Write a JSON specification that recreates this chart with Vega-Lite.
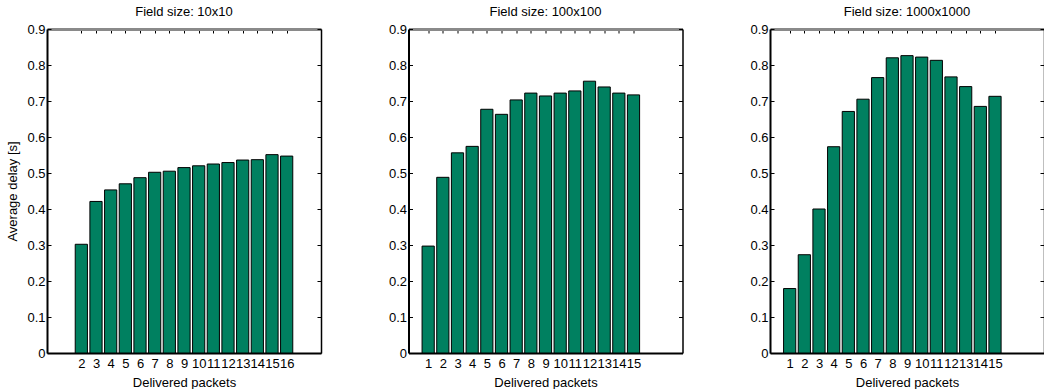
{
  "$schema": "https://vega.github.io/schema/vega-lite/v6.json",
  "autosize": {"type": "pad"},
  "padding": {"left": 6, "top": 6, "right": 0, "bottom": 0},
  "bounds": "flush",
  "spacing": 87.5,
  "config": {
    "view": {"stroke": null},
    "font": "Liberation Sans",
    "axis": {
      "grid": false,
      "labelFont": "Liberation Sans",
      "labelFontSize": 13,
      "labelColor": "#000",
      "titleFont": "Liberation Sans",
      "titleFontSize": 13,
      "titleFontWeight": "normal",
      "titleColor": "#000",
      "domainColor": "#000",
      "tickColor": "#000",
      "tickWidth": 1,
      "zindex": 1
    },
    "title": {"font": "Liberation Sans", "fontSize": 13, "fontWeight": "normal", "color": "#000", "offset": 4}
  },
  "datasets": {
    "p1": [
      {"packets": 2, "delay": 0.302},
      {"packets": 3, "delay": 0.421},
      {"packets": 4, "delay": 0.453},
      {"packets": 5, "delay": 0.470},
      {"packets": 6, "delay": 0.487},
      {"packets": 7, "delay": 0.502},
      {"packets": 8, "delay": 0.505},
      {"packets": 9, "delay": 0.515},
      {"packets": 10, "delay": 0.520},
      {"packets": 11, "delay": 0.525},
      {"packets": 12, "delay": 0.529},
      {"packets": 13, "delay": 0.536},
      {"packets": 14, "delay": 0.537},
      {"packets": 15, "delay": 0.551},
      {"packets": 16, "delay": 0.547}
    ],
    "p2": [
      {"packets": 1, "delay": 0.297},
      {"packets": 2, "delay": 0.488},
      {"packets": 3, "delay": 0.556},
      {"packets": 4, "delay": 0.574},
      {"packets": 5, "delay": 0.677},
      {"packets": 6, "delay": 0.663},
      {"packets": 7, "delay": 0.703},
      {"packets": 8, "delay": 0.722},
      {"packets": 9, "delay": 0.714},
      {"packets": 10, "delay": 0.722},
      {"packets": 11, "delay": 0.728},
      {"packets": 12, "delay": 0.755},
      {"packets": 13, "delay": 0.739},
      {"packets": 14, "delay": 0.722},
      {"packets": 15, "delay": 0.717}
    ],
    "p3": [
      {"packets": 1, "delay": 0.179},
      {"packets": 2, "delay": 0.273},
      {"packets": 3, "delay": 0.400},
      {"packets": 4, "delay": 0.573},
      {"packets": 5, "delay": 0.671},
      {"packets": 6, "delay": 0.705},
      {"packets": 7, "delay": 0.765},
      {"packets": 8, "delay": 0.820},
      {"packets": 9, "delay": 0.826},
      {"packets": 10, "delay": 0.822},
      {"packets": 11, "delay": 0.813},
      {"packets": 12, "delay": 0.767},
      {"packets": 13, "delay": 0.740},
      {"packets": 14, "delay": 0.685},
      {"packets": 15, "delay": 0.713}
    ]
  },
  "hconcat": [
    {
      "title": "Field size: 10x10",
      "width": 274,
      "height": 324,
      "data": {"name": "p1"},
      "layer": [
        {
          "mark": {"type": "bar", "fill": "#008060", "stroke": "#000", "strokeWidth": 1, "width": 12.2},
          "encoding": {
            "x": {"field": "packets", "type": "quantitative", "scale": {"domain": [0, 18], "nice": false, "zero": false},
              "axis": {"orient": "bottom", "values": [2,3,4,5,6,7,8,9,10,11,12,13,14,15,16], "ticks": false, "domainWidth": 2, "labelPadding": 4, "labelOverlap": false, "labelFlush": false, "labelBound": false, "title": "Delivered packets", "titlePadding": 6}},
            "y": {"field": "delay", "type": "quantitative", "scale": {"domain": [0, 0.9], "nice": false},
              "axis": {"orient": "left", "values": [0,0.1,0.2,0.3,0.4,0.5,0.6,0.7,0.8,0.9], "tickSize": -4, "labelPadding": 6, "domainWidth": 2, "labelExpr": "datum.value == 0 ? '0' : format(datum.value, '.1f')", "title": "Average delay [s]", "titlePadding": 7}}
          }
        },
        {
          "mark": {"type": "bar", "opacity": 0, "width": 12.2},
          "encoding": {
            "x": {"field": "packets", "type": "quantitative",
              "axis": {"orient": "top", "values": [2,3,4,5,6,7,8,9,10,11,12,13,14,15,16], "tickSize": -4, "labels": false, "domainColor": "#8a8a8a", "domainWidth": 3, "title": null}},
            "y": {"field": "delay", "type": "quantitative",
              "axis": {"orient": "right", "values": [0,0.1,0.2,0.3,0.4,0.5,0.6,0.7,0.8,0.9], "tickSize": -4, "labels": false, "domainWidth": 1.5, "title": null}}
          }
        }
      ],
      "resolve": {"axis": {"x": "independent", "y": "independent"}}
    },
    {
      "title": "Field size: 100x100",
      "width": 274,
      "height": 324,
      "data": {"name": "p2"},
      "layer": [
        {
          "mark": {"type": "bar", "fill": "#008060", "stroke": "#000", "strokeWidth": 1, "width": 12.2},
          "encoding": {
            "x": {"field": "packets", "type": "quantitative", "scale": {"domain": [0, 18], "nice": false, "zero": false},
              "axis": {"orient": "bottom", "values": [1,2,3,4,5,6,7,8,9,10,11,12,13,14,15], "ticks": false, "domainWidth": 2, "labelPadding": 4, "labelOverlap": false, "labelFlush": false, "labelBound": false, "title": "Delivered packets", "titlePadding": 6}},
            "y": {"field": "delay", "type": "quantitative", "scale": {"domain": [0, 0.9], "nice": false},
              "axis": {"orient": "left", "values": [0,0.1,0.2,0.3,0.4,0.5,0.6,0.7,0.8,0.9], "tickSize": -4, "labelPadding": 6, "domainWidth": 2, "labelExpr": "datum.value == 0 ? '0' : format(datum.value, '.1f')", "title": null}}
          }
        },
        {
          "mark": {"type": "bar", "opacity": 0, "width": 12.2},
          "encoding": {
            "x": {"field": "packets", "type": "quantitative",
              "axis": {"orient": "top", "values": [1,2,3,4,5,6,7,8,9,10,11,12,13,14,15], "tickSize": -4, "labels": false, "domainColor": "#8a8a8a", "domainWidth": 3, "title": null}},
            "y": {"field": "delay", "type": "quantitative",
              "axis": {"orient": "right", "values": [0,0.1,0.2,0.3,0.4,0.5,0.6,0.7,0.8,0.9], "tickSize": -4, "labels": false, "domainWidth": 1.5, "title": null}}
          }
        }
      ],
      "resolve": {"axis": {"x": "independent", "y": "independent"}}
    },
    {
      "title": "Field size: 1000x1000",
      "width": 274,
      "height": 324,
      "data": {"name": "p3"},
      "layer": [
        {
          "mark": {"type": "bar", "fill": "#008060", "stroke": "#000", "strokeWidth": 1, "width": 12.2},
          "encoding": {
            "x": {"field": "packets", "type": "quantitative", "scale": {"domain": [0, 18], "nice": false, "zero": false},
              "axis": {"orient": "bottom", "values": [1,2,3,4,5,6,7,8,9,10,11,12,13,14,15], "ticks": false, "domainWidth": 2, "labelPadding": 4, "labelOverlap": false, "labelFlush": false, "labelBound": false, "title": "Delivered packets", "titlePadding": 6}},
            "y": {"field": "delay", "type": "quantitative", "scale": {"domain": [0, 0.9], "nice": false},
              "axis": {"orient": "left", "values": [0,0.1,0.2,0.3,0.4,0.5,0.6,0.7,0.8,0.9], "tickSize": -4, "labelPadding": 6, "domainWidth": 2, "labelExpr": "datum.value == 0 ? '0' : format(datum.value, '.1f')", "title": null}}
          }
        },
        {
          "mark": {"type": "bar", "opacity": 0, "width": 12.2},
          "encoding": {
            "x": {"field": "packets", "type": "quantitative",
              "axis": {"orient": "top", "values": [1,2,3,4,5,6,7,8,9,10,11,12,13,14,15], "tickSize": -4, "labels": false, "domainColor": "#8a8a8a", "domainWidth": 3, "title": null}},
            "y": {"field": "delay", "type": "quantitative",
              "axis": {"orient": "right", "values": [0,0.1,0.2,0.3,0.4,0.5,0.6,0.7,0.8,0.9], "tickSize": -4, "labels": false, "domainWidth": 1.5, "title": null}}
          }
        }
      ],
      "resolve": {"axis": {"x": "independent", "y": "independent"}}
    }
  ]
}
